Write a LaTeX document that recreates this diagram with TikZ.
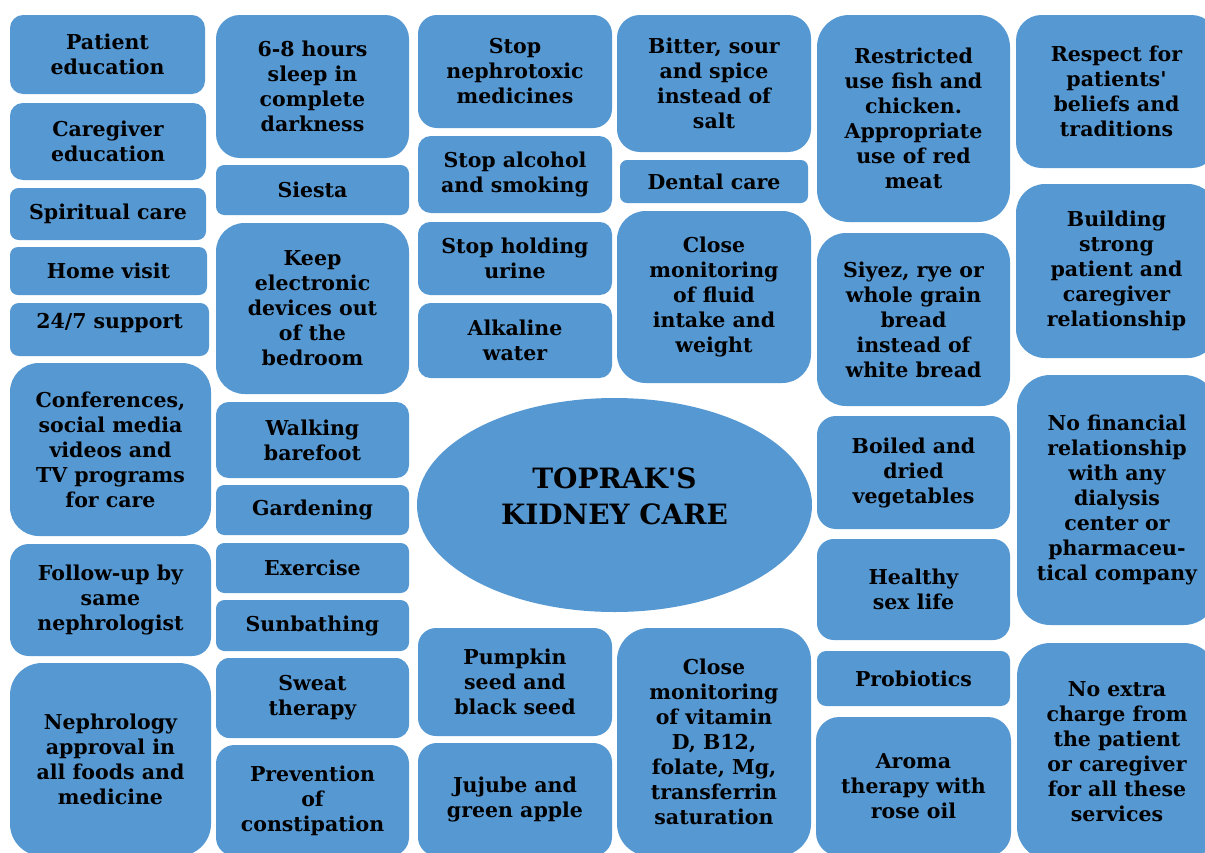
\documentclass[tikz,border=0pt]{standalone}
\usepackage{fontspec}
\setmainfont{DejaVu Serif}
\usetikzlibrary{shapes.geometric}
\definecolor{boxblue}{HTML}{5698D2}

\tikzset{every picture/.style={line width=0.75pt}}
\tikzset{
  careitem/.style={fill=boxblue, draw=none, inner sep=0pt, outer sep=0pt, align=center,
    font=\bfseries\fontsize{20.5}{25}\selectfont},
  hubitem/.style={ellipse, fill=boxblue, draw=none, inner sep=0pt, align=center,
    font=\bfseries\fontsize{28}{36}\selectfont}
}

% box from (x1,y1) to (x2,y2), corners rounded by a sixth of the short side
\newcommand{\carebox}[6]{%
  \pgfmathsetmacro{\bw}{#4-#2}
  \pgfmathsetmacro{\bh}{#5-#3}
  \pgfmathsetmacro{\brad}{0.1667*min(\bw,\bh)}
  \node[careitem, minimum width=\bw pt, minimum height=\bh pt, rounded corners=\brad pt]
    (#1) at ({(#2+#4)/2},{(#3+#5)/2}) {#6};
}

\begin{document}
\begin{tikzpicture}[x=1pt, y=-1pt]
\useasboundingbox (0,0) rectangle (1205,852);
\clip (0,0) rectangle (1205,852);

% column 1
\carebox{patedu}{10}{15}{205}{94}{Patient\\education}
\carebox{caredu}{10}{103}{206}{180}{Caregiver\\education}
\carebox{spirit}{10}{188}{206}{240}{Spiritual care}
\carebox{homevisit}{10}{247}{207}{295}{Home visit}
\carebox{support}{10}{303}{209}{356}{24/7 support\\[-8pt]}
\carebox{media}{10}{363}{211}{536}{Conferences,\\social media\\videos and\\TV programs\\for care}
\carebox{followup}{10}{544}{211}{656}{Follow-up by\\same\\nephrologist}
\carebox{approval}{10}{663}{211}{856}{Nephrology\\approval in\\all foods and\\medicine}

% column 2
\carebox{sleep}{216}{15}{409}{158}{6-8 hours\\sleep in\\complete\\darkness}
\carebox{siesta}{216}{165}{409}{215}{Siesta}
\carebox{devices}{216}{223}{409}{394}{Keep\\electronic\\devices out\\of the\\bedroom}
\carebox{barefoot}{216}{402}{409}{478}{Walking\\barefoot}
\carebox{garden}{216}{485}{409}{535}{Gardening}
\carebox{exercise}{216}{543}{409}{593}{Exercise}
\carebox{sun}{216}{600}{409}{651}{Sunbathing}
\carebox{sweat}{216}{658}{409}{738}{Sweat\\therapy}
\carebox{constip}{216}{745}{409}{856}{Prevention\\of\\constipation}

% column 3
\carebox{nephrotox}{418}{15}{612}{128}{Stop\\nephrotoxic\\medicines}
\carebox{alcohol}{418}{136}{612}{213}{Stop alcohol\\and smoking}
\carebox{urine}{418}{222}{612}{295}{Stop holding\\urine}
\carebox{alkaline}{418}{303}{612}{378}{Alkaline\\water}
\carebox{pumpkin}{418}{628}{612}{736}{Pumpkin\\seed and\\black seed}
\carebox{jujube}{418}{743}{612}{856}{Jujube and\\green apple}

% column 4
\carebox{bitter}{617}{15}{811}{152}{Bitter, sour\\and spice\\instead of\\salt}
\carebox{dental}{620}{160}{808}{203}{Dental care}
\carebox{fluid}{617}{211}{811}{383}{Close\\monitoring\\of fluid\\intake and\\weight}
\carebox{vitamin}{617}{628}{811}{856}{Close\\monitoring\\of vitamin\\D, B12,\\folate, Mg,\\transferrin\\saturation}

% column 5
\carebox{meat}{817}{15}{1010}{222}{Restricted\\use fish and\\chicken.\\Appropriate\\use of red\\meat}
\carebox{bread}{817}{233}{1010}{406}{Siyez, rye or\\whole grain\\bread\\instead of\\white bread}
\carebox{veg}{817}{416}{1010}{529}{Boiled and\\dried\\vegetables}
\carebox{sexlife}{817}{539}{1010}{640}{Healthy\\sex life}
\carebox{probio}{817}{651}{1010}{706}{Probiotics}
\carebox{aroma}{816}{717}{1011}{856}{Aroma\\therapy with\\rose oil}

% column 6
\carebox{respect}{1016}{15}{1217}{168}{Respect for\\patients\textquotesingle\\beliefs and\\traditions}
\carebox{bond}{1016}{184}{1217}{358}{Building\\strong\\patient and\\caregiver\\relationship}
\carebox{financial}{1017}{375}{1217}{625}{No financial\\relationship\\with any\\dialysis\\center or\\pharmaceu-\\tical company}
\carebox{charge}{1017}{643}{1217}{860}{No extra\\charge from\\the patient\\or caregiver\\for all these\\services}

% centre
\node[hubitem, minimum width=395pt, minimum height=214pt, text depth=18pt] (hub) at (614.5,505)
  {TOPRAK\textquotesingle S\\KIDNEY CARE};

\end{tikzpicture}
\end{document}
